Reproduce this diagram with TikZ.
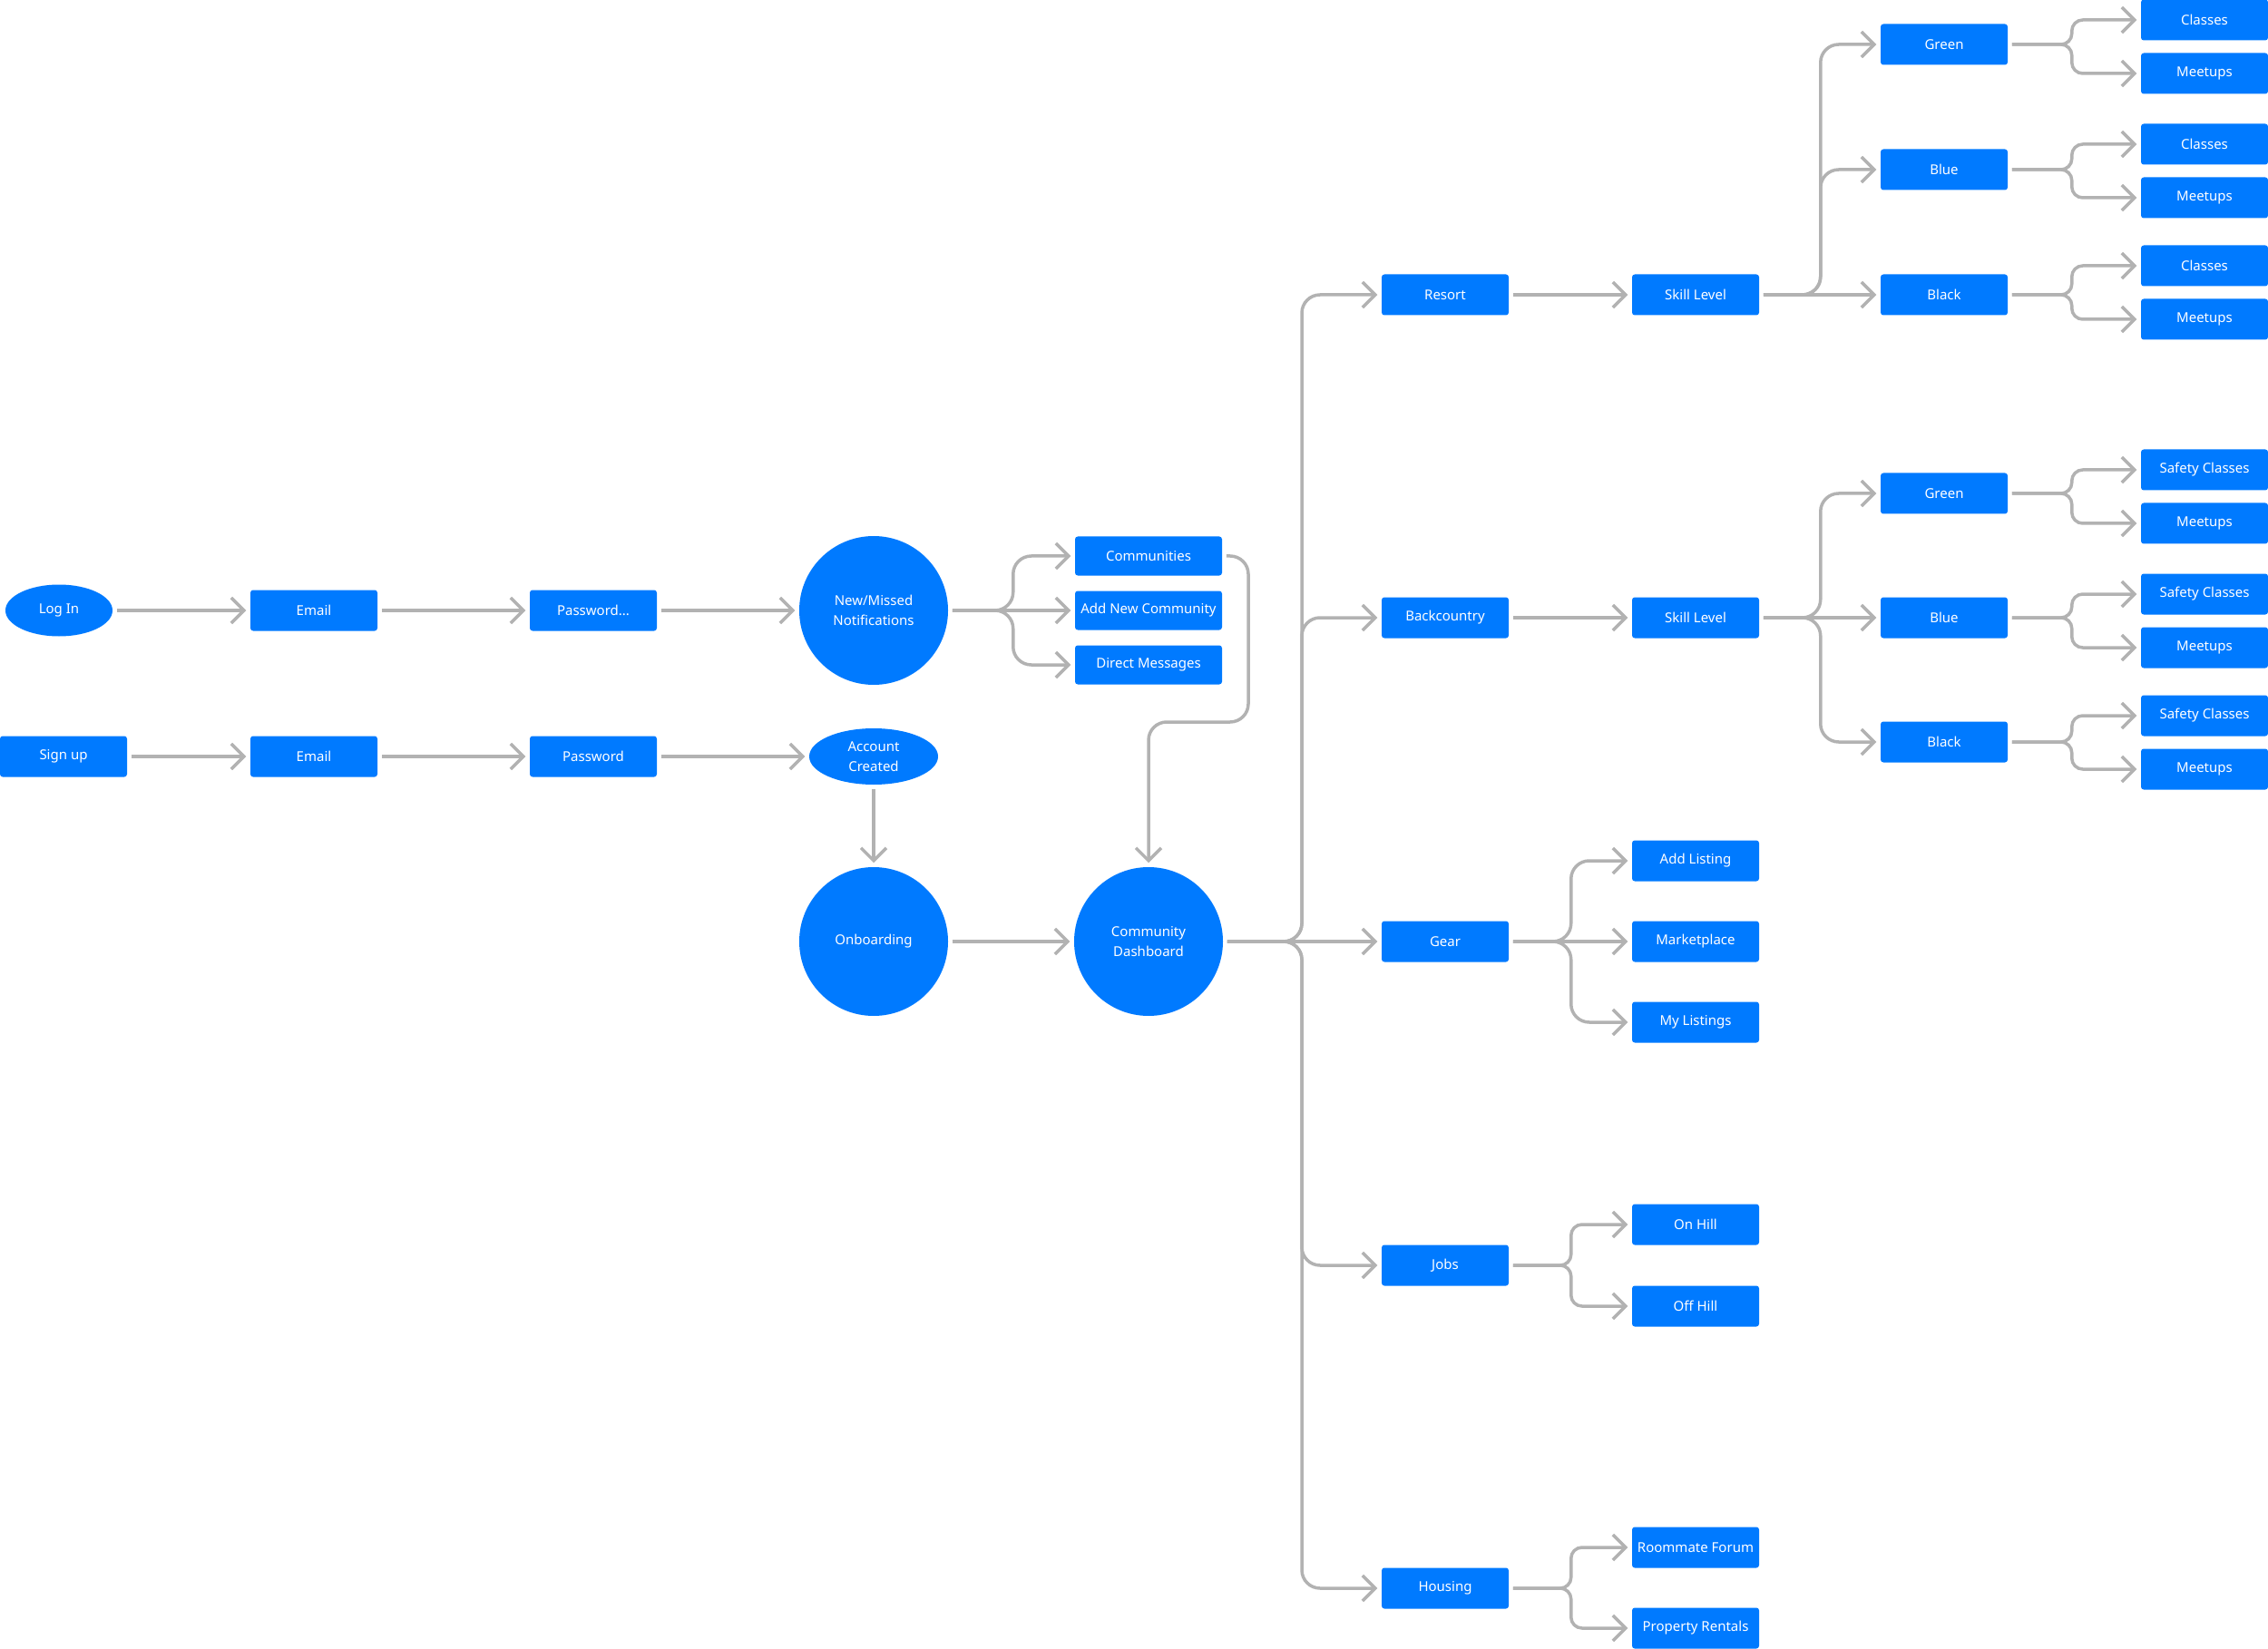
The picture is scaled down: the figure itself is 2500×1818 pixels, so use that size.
\documentclass[tikz,border=0pt]{standalone}
\usepackage{fontspec}
\setmainfont{Noto Sans}
\usetikzlibrary{arrows.meta,shapes.geometric}

\definecolor{flowblue}{RGB}{0,122,255}
\definecolor{linkgray}{RGB}{178,178,178}

\tikzset{every picture/.style={line width=0.75pt}}
\tikzset{
  stepbox/.style={fill=flowblue, text=white, rounded corners=1.5pt, minimum width=70pt, minimum height=22.5pt, inner sep=0pt, font=\fontsize{7.5}{11}\selectfont},
  widebox/.style={stepbox, minimum width=81pt, minimum height=21.5pt},
  bubble/.style={circle, fill=flowblue, text=white, minimum size=82pt, inner sep=0pt, align=center, font=\fontsize{7.5}{11}\selectfont},
  oval/.style={ellipse, fill=flowblue, text=white, inner sep=0pt, align=center, font=\fontsize{7.5}{11}\selectfont},
  flow/.style={draw=linkgray, line width=1.75pt, -{Straight Barb[length=7pt,width=14pt]}, shorten <=2pt, shorten >=2pt},
  fork/.style={flow, rounded corners=10pt},
  twig/.style={flow, rounded corners=6pt}
}

\begin{document}
\begin{tikzpicture}[x=0.5pt,y=0.5pt,yscale=-1,xscale=1]
\useasboundingbox (0,0) rectangle (2500,1818);

% Log in row
\node[oval, minimum width=59pt, minimum height=28.5pt] (login) at (65,673) {Log In};
\node[stepbox] (email1) at (346,673) {Email};
\node[stepbox] (pass1) at (654,673) {Password...};
\node[bubble] (notif) at (963,673) {New/Missed\\Notifications};

% Sign up row
\node[stepbox] (signup) at (70,834) {Sign up};
\node[stepbox] (email2) at (346,834) {Email};
\node[stepbox] (pass2) at (654,834) {Password};
\node[oval, minimum width=71pt, minimum height=31pt] (created) at (963,834) {Account\\Created};

% Hubs
\node[bubble] (onboard) at (963,1038) {Onboarding};
\node[bubble] (dash) at (1266,1038) {Community\\Dashboard};

% Notification targets
\node[widebox] (comms) at (1266,613) {Communities};
\node[widebox] (addcomm) at (1266,673) {Add New Community};
\node[widebox] (dms) at (1266,733) {Direct Messages};

% Dashboard sections
\node[stepbox] (resort) at (1593,325) {Resort};
\node[stepbox] (backc) at (1593,681) {Backcountry};
\node[stepbox] (gear) at (1593,1038) {Gear};
\node[stepbox] (jobs) at (1593,1395) {Jobs};
\node[stepbox] (housing) at (1593,1751) {Housing};

% Second level
\node[stepbox] (rskill) at (1869,325) {Skill Level};
\node[stepbox] (bskill) at (1869,681) {Skill Level};
\node[stepbox] (addlist) at (1869,949) {Add Listing};
\node[stepbox] (market) at (1869,1038) {Marketplace};
\node[stepbox] (mylist) at (1869,1127) {My Listings};
\node[stepbox] (onhill) at (1869,1350) {On Hill};
\node[stepbox] (offhill) at (1869,1440) {Off Hill};
\node[stepbox] (roommate) at (1869,1706) {Roommate Forum};
\node[stepbox] (rentals) at (1869,1795) {Property Rentals};

% Skill levels
\node[stepbox] (rgreen) at (2143,49) {Green};
\node[stepbox] (rblue) at (2143,187) {Blue};
\node[stepbox] (rblack) at (2143,325) {Black};
\node[stepbox] (bgreen) at (2143,544) {Green};
\node[stepbox] (bblue) at (2143,681) {Blue};
\node[stepbox] (bblack) at (2143,818) {Black};

% Leaves
\node[stepbox] (rgreen-a) at (2430,22) {Classes};
\node[stepbox] (rgreen-b) at (2430,81) {Meetups};
\node[stepbox] (rblue-a) at (2430,159) {Classes};
\node[stepbox] (rblue-b) at (2430,218) {Meetups};
\node[stepbox] (rblack-a) at (2430,293) {Classes};
\node[stepbox] (rblack-b) at (2430,352) {Meetups};
\node[stepbox] (bgreen-a) at (2430,518) {Safety Classes};
\node[stepbox] (bgreen-b) at (2430,577) {Meetups};
\node[stepbox] (bblue-a) at (2430,655) {Safety Classes};
\node[stepbox] (bblue-b) at (2430,714) {Meetups};
\node[stepbox] (bblack-a) at (2430,789) {Safety Classes};
\node[stepbox] (bblack-b) at (2430,848) {Meetups};

% Bend points
\coordinate (loopc) at (1376,796);
\coordinate (trunk) at (1435,1038);

% Entry flows
\draw[flow] (login) -- (email1);
\draw[flow] (email1) -- (pass1);
\draw[flow] (pass1) -- (notif);
\draw[flow] (signup) -- (email2);
\draw[flow] (email2) -- (pass2);
\draw[flow] (pass2) -- (created);
\draw[flow] (created) -- (onboard);
\draw[flow] (onboard) -- (dash);

% Notification fork
\draw[fork] (notif.east) -- ++(71,0) |- (comms.west);
\draw[flow] (notif) -- (addcomm);
\draw[fork] (notif.east) -- ++(71,0) |- (dms.west);
\draw[fork] (comms.east) -| (loopc) -| (dash.north);

% Dashboard trunk
\draw[fork] (dash.east) -- (trunk) |- (resort.west);
\draw[fork] (dash.east) -- (trunk) |- (backc.west);
\draw[flow] (dash) -- (gear);
\draw[fork] (dash.east) -- (trunk) |- (jobs.west);
\draw[fork] (dash.east) -- (trunk) |- (housing.west);

% Resort
\draw[flow] (resort) -- (rskill);
\draw[fork] (rskill.east) -- ++(67,0) |- (rgreen.west);
\draw[fork] (rskill.east) -- ++(67,0) |- (rblue.west);
\draw[flow] (rskill) -- (rblack);

% Backcountry
\draw[flow] (backc) -- (bskill);
\draw[fork] (bskill.east) -- ++(67,0) |- (bgreen.west);
\draw[flow] (bskill) -- (bblue);
\draw[fork] (bskill.east) -- ++(67,0) |- (bblack.west);

% Gear, Jobs, Housing
\draw[fork] (gear.east) -- ++(68,0) |- (addlist.west);
\draw[flow] (gear) -- (market);
\draw[fork] (gear.east) -- ++(68,0) |- (mylist.west);
\draw[twig] (jobs.east) -- ++(68,0) |- (onhill.west);
\draw[twig] (jobs.east) -- ++(68,0) |- (offhill.west);
\draw[twig] (housing.east) -- ++(68,0) |- (roommate.west);
\draw[twig] (housing.east) -- ++(68,0) |- (rentals.west);

% Skill level leaves
\draw[twig] (rgreen.east) -- ++(70,0) |- (rgreen-a.west);
\draw[twig] (rgreen.east) -- ++(70,0) |- (rgreen-b.west);
\draw[twig] (rblue.east) -- ++(70,0) |- (rblue-a.west);
\draw[twig] (rblue.east) -- ++(70,0) |- (rblue-b.west);
\draw[twig] (rblack.east) -- ++(70,0) |- (rblack-a.west);
\draw[twig] (rblack.east) -- ++(70,0) |- (rblack-b.west);
\draw[twig] (bgreen.east) -- ++(70,0) |- (bgreen-a.west);
\draw[twig] (bgreen.east) -- ++(70,0) |- (bgreen-b.west);
\draw[twig] (bblue.east) -- ++(70,0) |- (bblue-a.west);
\draw[twig] (bblue.east) -- ++(70,0) |- (bblue-b.west);
\draw[twig] (bblack.east) -- ++(70,0) |- (bblack-a.west);
\draw[twig] (bblack.east) -- ++(70,0) |- (bblack-b.west);

\end{tikzpicture}
\end{document}
